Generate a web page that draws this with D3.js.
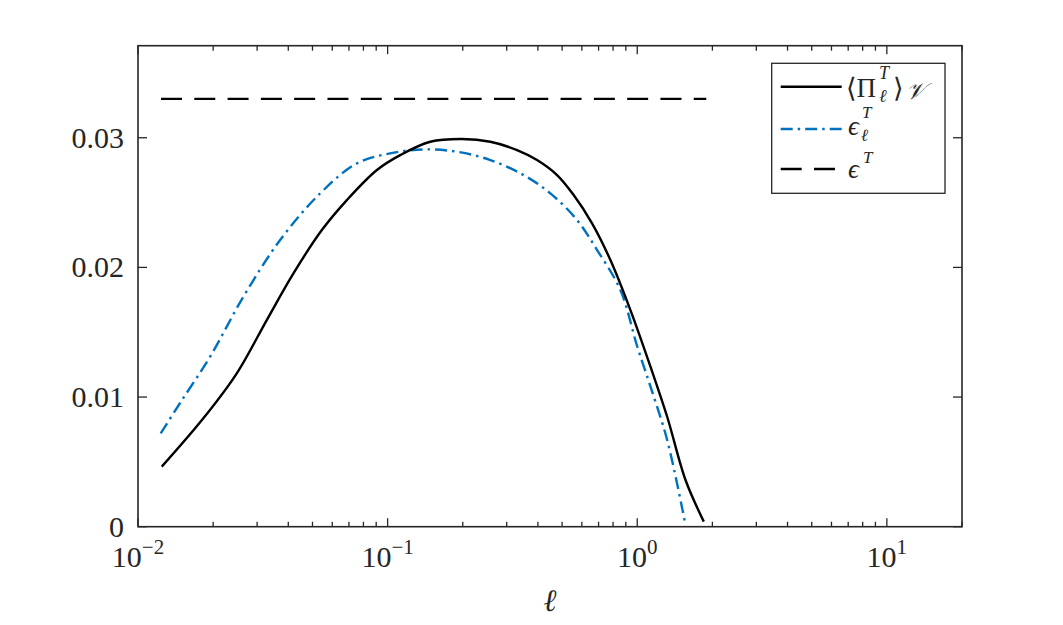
<!DOCTYPE html>
<html>
<head>
<meta charset="utf-8">
<script src="https://cdn.jsdelivr.net/npm/d3@7"></script>
<style>
  body { margin: 0; background: #fff; }
  text { font-family: "Liberation Serif", "DejaVu Serif", serif; fill: #262626; }
</style>
</head>
<body>
<svg id="chart" width="1063" height="625"></svg>
<script>
// <Pi_l^T>_V  (black solid)
const piEll = [0.01245, 0.01827, 0.02488, 0.0328, 0.04195, 0.05452, 0.06867, 0.0906, 0.1123, 0.1482,
               0.1986, 0.2578, 0.33, 0.3968, 0.4774, 0.5563, 0.6592, 0.7806, 0.9391, 1.13, 1.318, 1.561, 1.848];
const piVal = [0.00463, 0.00836, 0.01183, 0.01594, 0.01954, 0.02288, 0.02519, 0.02751, 0.02866, 0.02969,
               0.0299, 0.02969, 0.02905, 0.02828, 0.02712, 0.02558, 0.0234, 0.02057, 0.01671, 0.01234, 0.00848, 0.0036, 0.00039];

// eps_l^T  (blue dash-dot)
const epsEll = [0.01233, 0.01474, 0.01944, 0.02644, 0.0371, 0.05367, 0.07528, 0.1024, 0.1393, 0.1896,
                0.2578, 0.3506, 0.4487, 0.5741, 0.6906, 0.8561, 1.0, 1.13, 1.318, 1.561];
const epsVal = [0.0072, 0.00954, 0.01311, 0.01774, 0.02211, 0.02571, 0.02802, 0.0288, 0.0291, 0.02892,
                0.02828, 0.02712, 0.02571, 0.02365, 0.02134, 0.01825, 0.0139, 0.0108, 0.00669, 0.00013];

// eps^T  (black dashed, constant)
const epsTotEll = [0.01236, 1.89];
const epsTotVal = [0.033, 0.033];

const yTicks = [0, 0.01, 0.02, 0.03];
const yTickLabels = ["0", "0.01", "0.02", "0.03"];
const xTicks = [0.01, 0.1, 1, 10];
const xTickExps = ["\u22122", "\u22121", "0", "1"];

const width = 1063, height = 625;
const margin = { top: 45.7, right: 101, bottom: 98.3, left: 138 };
const axisColor = "#262626";

const svg = d3.select("#chart");

const x = d3.scaleLog()
    .domain([0.01, 20])
    .range([margin.left, width - margin.right]);
const y = d3.scaleLinear()
    .domain([0, 0.0371])
    .range([height - margin.bottom, margin.top]);

const x0 = margin.left, x1 = width - margin.right;
const y0 = height - margin.bottom, y1 = margin.top;

svg.append("defs").append("clipPath").attr("id", "plotClip")
  .append("rect")
    .attr("x", x0).attr("y", y1)
    .attr("width", x1 - x0).attr("height", y0 - y1);

// minor ticks on the log axis
let minorTicks = [];
[0.01, 0.1, 1, 10].forEach(d => {
  for (let k = 2; k <= 9; k++) {
    const v = d * k;
    if (v <= 20) minorTicks.push(v);
  }
});

const tickG = svg.append("g").attr("stroke", axisColor).attr("stroke-width", 1.3);

// bottom & top x ticks, pointing in
xTicks.forEach(t => {
  tickG.append("line").attr("x1", x(t)).attr("x2", x(t)).attr("y1", y0).attr("y2", y0 - 8.5);
  tickG.append("line").attr("x1", x(t)).attr("x2", x(t)).attr("y1", y1).attr("y2", y1 + 8.5);
});
minorTicks.forEach(t => {
  tickG.append("line").attr("x1", x(t)).attr("x2", x(t)).attr("y1", y0).attr("y2", y0 - 5);
  tickG.append("line").attr("x1", x(t)).attr("x2", x(t)).attr("y1", y1).attr("y2", y1 + 5);
});
// left & right y ticks
yTicks.forEach(t => {
  tickG.append("line").attr("x1", x0).attr("x2", x0 + 9).attr("y1", y(t)).attr("y2", y(t));
  tickG.append("line").attr("x1", x1).attr("x2", x1 - 9).attr("y1", y(t)).attr("y2", y(t));
});

// box
svg.append("rect")
    .attr("x", x0).attr("y", y1)
    .attr("width", x1 - x0).attr("height", y0 - y1)
    .attr("fill", "none")
    .attr("stroke", axisColor)
    .attr("stroke-width", 1.6);

// y tick labels
svg.append("g").selectAll("text")
  .data(yTicks)
  .join("text")
    .attr("x", x0 - 14)
    .attr("y", d => y(d))
    .attr("dy", "0.33em")
    .attr("text-anchor", "end")
    .attr("font-size", 30)
    .text((d, i) => yTickLabels[i]);

// x tick labels 10^n
const xl = svg.append("g").selectAll("text")
  .data(xTicks)
  .join("text")
    .attr("x", d => x(d))
    .attr("y", y0 + 40)
    .attr("text-anchor", "middle")
    .attr("font-size", 30);
xl.append("tspan").text("10");
xl.append("tspan")
    .attr("font-size", 21)
    .attr("dy", -13)
    .text((d, i) => xTickExps[i]);

// x label
svg.append("text")
    .attr("x", (x0 + x1) / 2)
    .attr("y", y0 + 84)
    .attr("text-anchor", "middle")
    .attr("font-size", 31)
    .attr("font-style", "italic")
    .text("\u2113");

const line = d3.line()
    .x(d => x(d[0]))
    .y(d => y(d[1]))
    .curve(d3.curveCatmullRom.alpha(0.5));

const plot = svg.append("g").attr("clip-path", "url(#plotClip)");

plot.append("path")
    .datum(epsTotEll.map((d, i) => [d, epsTotVal[i]]))
    .attr("d", line)
    .attr("fill", "none")
    .attr("stroke", "#000")
    .attr("stroke-width", 2.4)
    .attr("stroke-dasharray", "21,12.3");

plot.append("path")
    .datum(epsEll.map((d, i) => [d, epsVal[i]]))
    .attr("d", line)
    .attr("fill", "none")
    .attr("stroke", "#0072BD")
    .attr("stroke-width", 2.4)
    .attr("stroke-dasharray", "12,5,2.5,5");

plot.append("path")
    .datum(piEll.map((d, i) => [d, piVal[i]]))
    .attr("d", line)
    .attr("fill", "none")
    .attr("stroke", "#000")
    .attr("stroke-width", 2.4);

// legend
const leg = svg.append("g");
leg.append("rect")
    .attr("x", 771.7).attr("y", 63.3)
    .attr("width", 173.3).attr("height", 130)
    .attr("fill", "#fff")
    .attr("stroke", axisColor)
    .attr("stroke-width", 1.3);

const legRows = [
  { y: 86.7, color: "#000", dash: null },
  { y: 129, color: "#0072BD", dash: "12,5,2.5,5" },
  { y: 169, color: "#000", dash: "21,12.3" }
];
legRows.forEach(r => {
  leg.append("line")
      .attr("x1", 780.7).attr("x2", 841.7)
      .attr("y1", r.y).attr("y2", r.y)
      .attr("stroke", r.color)
      .attr("stroke-width", 2.4)
      .attr("stroke-dasharray", r.dash);
});

// row 1: <Pi_l^T>_V
leg.append("text").attr("x", 846).attr("y", 97).attr("font-size", 27).text("\u27E8\u03A0");
leg.append("text").attr("x", 879).attr("y", 79).attr("font-size", 18).attr("font-style", "italic").text("T");
leg.append("text").attr("x", 879).attr("y", 102).attr("font-size", 18).attr("font-style", "italic").text("\u2113");
leg.append("text").attr("x", 893).attr("y", 97).attr("font-size", 27).text("\u27E9");
leg.append("text").attr("x", 906).attr("y", 99).attr("font-size", 23).attr("font-style", "italic").text("\uD835\uDCB1");

// row 2: eps_l^T
leg.append("text").attr("x", 848).attr("y", 135).attr("font-size", 27).attr("font-style", "italic").text("\u03F5");
leg.append("text").attr("x", 862).attr("y", 118).attr("font-size", 17).attr("font-style", "italic").text("T");
leg.append("text").attr("x", 861).attr("y", 141).attr("font-size", 17).attr("font-style", "italic").text("\u2113");

// row 3: eps^T
leg.append("text").attr("x", 848).attr("y", 178).attr("font-size", 27).attr("font-style", "italic").text("\u03F5");
leg.append("text").attr("x", 863).attr("y", 163).attr("font-size", 17).attr("font-style", "italic").text("T");
</script>
</body>
</html>
